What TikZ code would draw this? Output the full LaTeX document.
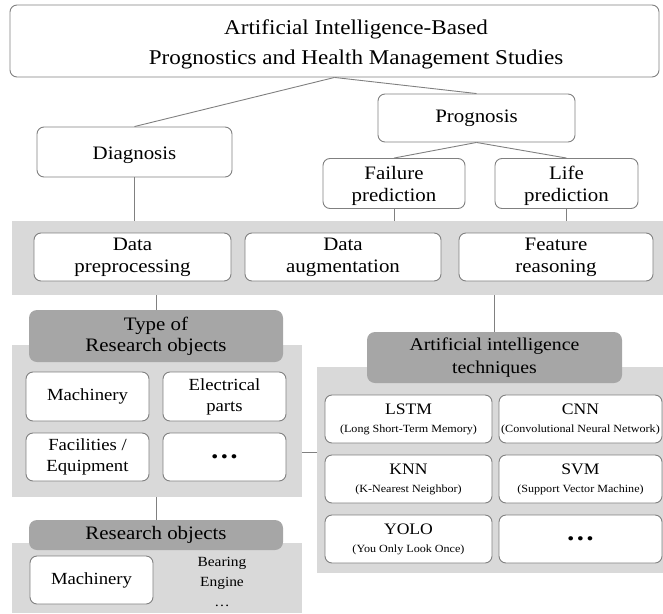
\documentclass[tikz,border=0pt]{standalone}
\usepackage{fontspec}
\setmainfont{Liberation Serif}[FakeStretch=1.1]
\definecolor{linegray}{HTML}{808080}
\definecolor{hdrgray}{HTML}{A6A6A6}
\definecolor{panelgray}{HTML}{D9D9D9}
\newcommand{\fsz}[2]{\fontsize{#1}{#2}\selectfont}
\tikzset{
  box/.style={draw=linegray, fill=white, rounded corners=7pt, line width=0.9pt, align=center, inner sep=0pt, font=\fsz{19}{22}},
  hdr/.style={fill=hdrgray, rounded corners=8pt, align=center, inner sep=0pt, font=\fsz{19}{21}},
  panel/.style={fill=panelgray, inner sep=0pt},
  conn/.style={draw=linegray, line width=0.9pt},
  smallbox/.style={box, minimum width=123pt, font=\fsz{17}{21}},
  aibox/.style={box, minimum width=167pt, minimum height=48pt, font=\fsz{16}{18}},
  plain/.style={align=center, inner sep=0pt, font=\fsz{19}{22}}
}
\begin{document}
\begin{tikzpicture}[x=1pt,y=-1pt]
\useasboundingbox (0,0) rectangle (663,613);
% panels
\node[panel, minimum width=651pt, minimum height=74pt] (band) at (337.5,258) {};
\node[panel, minimum width=290pt, minimum height=152pt] (typepanel) at (157,421) {};
\node[panel, minimum width=290pt, minimum height=70pt] (respanel) at (157,578) {};
\node[panel, minimum width=346pt, minimum height=206pt] (aipanel) at (490,470) {};
% top
\node[box, minimum width=649pt, minimum height=72pt] (top) at (334.5,41) {};
\node[plain, font=\fsz{21}{30}] (toptext) at (356,44) {Artificial Intelligence-Based\\Prognostics and Health Management Studies};
\node[box, minimum width=195pt, minimum height=50pt] (diag) at (134.5,152) {};
\node[plain] (diagtext) at (134.5,155) {Diagnosis};
\node[box, minimum width=197pt, minimum height=48pt] (prog) at (476.5,118) {Prognosis};
\node[box, minimum width=142pt, minimum height=50pt] (fail) at (394,183.5) {};
\node[plain] (failtext) at (394,186) {Failure\\prediction};
\node[box, minimum width=143pt, minimum height=50pt] (life) at (566.5,183.5) {};
\node[plain] (lifetext) at (566.5,186) {Life\\prediction};
% band boxes
\node[box, minimum width=197pt, minimum height=48pt] (pre) at (132.5,257) {Data\\preprocessing};
\node[box, minimum width=196pt, minimum height=48pt] (aug) at (343,257) {Data\\augmentation};
\node[box, minimum width=194pt, minimum height=48pt] (feat) at (556,257) {Feature\\reasoning};
% type of research objects
\node[hdr, minimum width=254pt, minimum height=52pt] (typeh) at (156,336) {Type of\\Research objects};
\node[smallbox, minimum height=49pt] (mach) at (87.5,396.5) {Machinery};
\node[smallbox, minimum height=49pt] (elec) at (224.5,396.5) {Electrical\\parts};
\node[smallbox, minimum height=48pt] (fac) at (87.5,457) {Facilities /\\Equipment};
\node[smallbox, minimum height=48pt, font=\fsz{26}{26}\bfseries] (dots1) at (224.5,457) {…};
% research objects
\node[hdr, minimum width=254pt, minimum height=30pt] (resh) at (156,535) {Research objects};
\node[smallbox, minimum height=48pt] (mach2) at (91.5,580) {Machinery};
\node[plain, font=\fsz{14}{20}] (bear) at (222,582) {Bearing\\Engine\\…};
% AI techniques
\node[hdr, minimum width=255pt, minimum height=51pt, font=\fsz{18}{23}] (aih) at (494.5,357.5) {Artificial intelligence\\techniques};
\node[aibox] (lstm) at (408.5,419) {LSTM\\{\fsz{11}{13}(Long Short-Term Memory)}};
\node[aibox, minimum width=163pt] (cnn) at (580.5,419) {CNN\\{\fsz{11}{13}(Convolutional Neural Network)}};
\node[aibox] (knn) at (408.5,479) {KNN\\{\fsz{11}{13}(K-Nearest Neighbor)}};
\node[aibox, minimum width=163pt] (svm) at (580.5,479) {SVM\\{\fsz{11}{13}(Support Vector Machine)}};
\node[aibox] (yolo) at (408.5,539) {YOLO\\{\fsz{11}{13}(You Only Look Once)}};
\node[aibox, minimum width=163pt, font=\fsz{26}{26}\bfseries] (dots2) at (580.5,539) {…};
% connectors
\draw[conn] (top.south) -- (diag.north);
\draw[conn] (top.south) -- (prog.north);
\draw[conn] (prog.south) -- (fail.north);
\draw[conn] (prog.south) -- (life.north);
\draw[conn] (diag.south) -- (diag.south |- band.north);
\draw[conn] (fail.south) -- (fail.south |- band.north);
\draw[conn] (life.south) -- (life.south |- band.north);
\draw[conn] (typeh.north |- band.south) -- (typeh.north);
\draw[conn] (aih.north |- band.south) -- (aih.north);
\draw[conn] (resh.north |- typepanel.south) -- (resh.north);
\coordinate (hl) at (0,452);
\draw[conn] (typepanel.east |- hl) -- (aipanel.west |- hl);
\end{tikzpicture}
\end{document}
